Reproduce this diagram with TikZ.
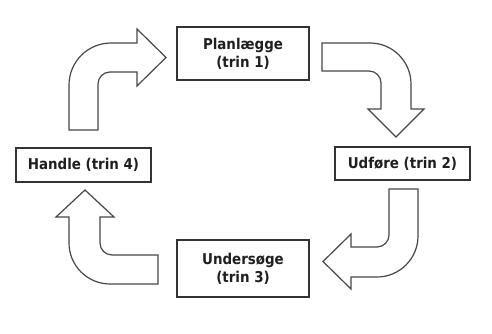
\documentclass[tikz,border=0pt]{standalone}
\usepackage{fontspec}
\newfontfamily\lblfont{DejaVu Sans Condensed}
\begin{document}
\begin{tikzpicture}[x=1pt,y=-1pt,
  stepbox/.style={draw=black!80,line width=1.5pt,fill=white,inner sep=0pt,
    font=\lblfont\bfseries\fontsize{14.9}{18}\selectfont,text=black!88,align=center},
  blockarrow/.style={draw=black!72,line width=1.2pt,fill=white,line join=miter}]
\useasboundingbox (0,0) rectangle (492,334);
\node[stepbox,minimum width=132pt,minimum height=53pt] (plan) at (243,53.5) {Planlægge\\(trin 1)};
\node[stepbox,minimum width=135pt,minimum height=33pt] (udf) at (402.5,163.5) {Udføre (trin 2)};
\node[stepbox,minimum width=132pt,minimum height=57pt] (und) at (243,268.5) {Undersøge\\(trin 3)};
\node[stepbox,minimum width=135pt,minimum height=34pt] (hand) at (83.5,165) {Handle (trin 4)};
% arrow: Handle -> Planlaegge
\draw[blockarrow] (69,130) -- (69,85) .. controls (69,61.8) and (87.8,43) .. (111,43)
  -- (137,43) -- (137,29) -- (166,57.5) -- (137,86) -- (137,72) -- (110,72)
  .. controls (103.4,72) and (98,77.4) .. (98,84) -- (98,130) -- cycle;
% arrow: Planlaegge -> Udfore
\draw[blockarrow] (322,43) -- (370,43) .. controls (392.6,43) and (411,61.4) .. (411,84)
  -- (411,109) -- (424,109) -- (396,137) -- (368,109) -- (381,109) -- (381,83)
  .. controls (381,76.4) and (375.6,71) .. (369,71) -- (322,71) -- cycle;
% arrow: Udfore -> Undersoege
\draw[blockarrow] (389,189) -- (418,189) -- (418,236) .. controls (418,258.6) and (399.6,277) .. (377,277)
  -- (351,277) -- (351,289) -- (323,261.5) -- (351,234) -- (351,247) -- (377,247)
  .. controls (383.6,247) and (389,241.6) .. (389,235) -- cycle;
% arrow: Undersoege -> Handle
\draw[blockarrow] (158,255) -- (112,255) .. controls (105.4,255) and (100,249.6) .. (100,243)
  -- (100,217) -- (114,217) -- (85,190) -- (56,217) -- (69,217) -- (69,243)
  .. controls (69,265.6) and (87.4,284) .. (110,284) -- (158,284) -- cycle;
\end{tikzpicture}
\end{document}
